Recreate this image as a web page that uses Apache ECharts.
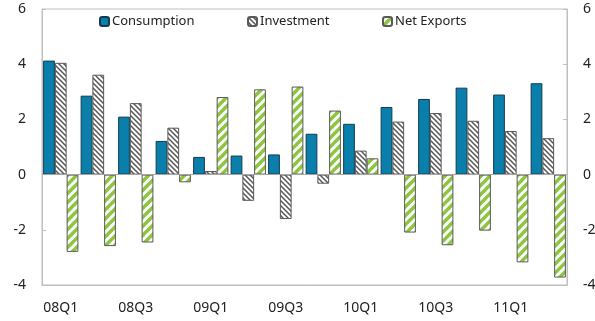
<!DOCTYPE html>
<html>
<head>
<meta charset="utf-8">
<script src="https://cdn.jsdelivr.net/npm/echarts@6/dist/echarts.min.js"></script>
<style>
  html, body { margin: 0; padding: 0; background: #fff; }
  #chart { width: 595px; height: 321px; }
</style>
</head>
<body>
<div id="chart"></div>
<script>
// Quarterly contributions to growth, percentage points
const quarters = ['08Q1','08Q2','08Q3','08Q4','09Q1','09Q2','09Q3','09Q4',
                  '10Q1','10Q2','10Q3','10Q4','11Q1','11Q2'];
const consumption = [4.13, 2.86, 2.10, 1.22, 0.64, 0.69, 0.73, 1.48, 1.84, 2.45, 2.74, 3.15, 2.90, 3.31];
const investment  = [4.05, 3.62, 2.59, 1.70, 0.13, -0.95, -1.61, -0.33, 0.87, 1.92, 2.23, 1.95, 1.58, 1.32];
const netExports  = [-2.80, -2.59, -2.46, -0.28, 2.81, 3.09, 3.19, 2.32, 0.59, -2.10, -2.56, -2.03, -3.18, -3.73];
const yTicks = [-4, -2, 0, 2, 4, 6];

const FONT = 'Noto Sans';

// Diagonal hatch tile; dir 1 = "\" stripes, dir -1 = "/" stripes
function hatch(size, lineWidth, stroke, dir) {
  const c = document.createElement('canvas');
  c.width = size; c.height = size;
  const g = c.getContext('2d');
  g.fillStyle = '#ffffff';
  g.fillRect(0, 0, size, size);
  g.strokeStyle = stroke;
  g.lineWidth = lineWidth;
  g.lineCap = 'square';
  for (const k of [-size, 0, size]) {
    g.beginPath();
    if (dir > 0) { g.moveTo(k, 0); g.lineTo(k + size, size); }
    else { g.moveTo(k, size); g.lineTo(k + size, 0); }
    g.stroke();
  }
  return { image: c, repeat: 'repeat' };
}

const investFill = hatch(5, 1.5, '#555555', 1);
const exportFill = hatch(9, 3.4, '#8cc63f', -1);

const chart = echarts.init(document.getElementById('chart'), null, { renderer: 'canvas' });

const axisGray = '#bfbfbf';
const labelStyle = { fontFamily: FONT, fontSize: 14, color: '#222' };

chart.setOption({
  animation: false,
  grid: {
    left: 42, right: 28, top: 9, bottom: 36,
    containLabel: false, outerBoundsMode: 'none',
    show: true, borderColor: axisGray, borderWidth: 1
  },
  legend: [
    { left: 99, data: ['Consumption'] },
    { left: 247, data: ['Investment'] },
    { left: 382, data: ['Net Exports'] }
  ].map(l => Object.assign({
    top: 15,
    padding: 0,
    itemWidth: 9,
    itemHeight: 9,
    itemGap: 0,
    textStyle: { fontFamily: FONT, fontSize: 13, color: '#222', padding: [0, 0, 0, -2] },
    selectedMode: false
  }, l)),
  xAxis: {
    type: 'category',
    data: quarters,
    axisLine: { show: true, onZero: false, lineStyle: { color: axisGray } },
    axisTick: { show: false },
    axisLabel: Object.assign({ interval: 1, margin: 16 }, labelStyle)
  },
  yAxis: ['left', 'right'].map(pos => ({
    type: 'value',
    position: pos,
    min: yTicks[0],
    max: yTicks[yTicks.length - 1],
    interval: 2,
    axisLine: { show: true, onZero: false, lineStyle: { color: axisGray, width: 1 } },
    axisTick: { show: true, inside: true, length: 4, lineStyle: { color: axisGray } },
    splitLine: { show: false },
    axisLabel: Object.assign({ margin: 16 }, labelStyle)
  })),
  series: [
    {
      name: 'Consumption', type: 'bar', data: consumption,
      barGap: '0%', barCategoryGap: '6%',
      itemStyle: { color: '#0a7fab', borderColor: '#123c4f', borderWidth: 1 },
      markLine: {
        silent: true, symbol: 'none', label: { show: false },
        lineStyle: { color: '#a6a6a6', width: 1, type: 'solid' },
        data: [{ yAxis: 0 }]
      },
      z: 3
    },
    {
      name: 'Investment', type: 'bar', data: investment,
      itemStyle: { color: investFill, borderColor: '#595959', borderWidth: 1 },
      z: 3
    },
    {
      name: 'Net Exports', type: 'bar', data: netExports,
      itemStyle: { color: exportFill, borderColor: '#595959', borderWidth: 1 },
      z: 3
    }
  ]
});
</script>
</body>
</html>
